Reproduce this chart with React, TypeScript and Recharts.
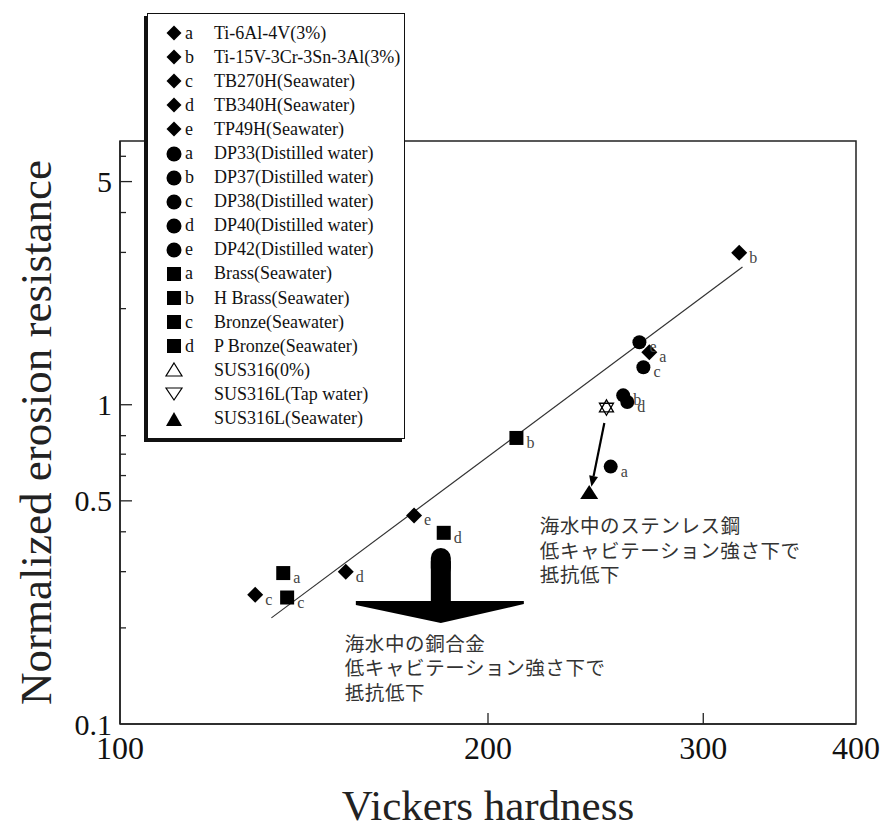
import React from "react";
import {
  ScatterChart,
  Scatter,
  XAxis,
  YAxis,
  ReferenceLine,
  ReferenceDot,
  ReferenceArea,
  Legend,
  Label,
} from "recharts";

// Ti alloys (diamonds)
const tiTags = ["a", "b", "c", "d", "e"];
const tiNames = [
  "Ti-6Al-4V(3%)",
  "Ti-15V-3Cr-3Sn-3Al(3%)",
  "TB270H(Seawater)",
  "TB340H(Seawater)",
  "TP49H(Seawater)",
];
const tiHardness = [271, 321, 129, 153, 174];
const tiResistance = [1.46, 2.99, 0.254, 0.3, 0.45];

// DP steels (circles)
const dpTags = ["a", "b", "c", "d", "e"];
const dpNames = [
  "DP33(Distilled water)",
  "DP37(Distilled water)",
  "DP38(Distilled water)",
  "DP40(Distilled water)",
  "DP42(Distilled water)",
];
const dpHardness = [252, 258, 268, 260, 266];
const dpResistance = [0.64, 1.07, 1.31, 1.02, 1.57];

// copper alloys (squares)
const cuTags = ["a", "b", "c", "d"];
const cuNames = [
  "Brass(Seawater)",
  "H Brass(Seawater)",
  "Bronze(Seawater)",
  "P Bronze(Seawater)",
];
const cuHardness = [136, 211, 137, 184];
const cuResistance = [0.297, 0.787, 0.249, 0.397];

// stainless steels (triangles)
const susNames = ["SUS316(0%)", "SUS316L(Tap water)", "SUS316L(Seawater)"];
const susHardness = [250, 250, 242];
const susResistance = [0.985, 0.975, 0.529];

// regression line end points
const fitHardness = [133, 323];
const fitResistance = [0.215, 2.7];

// annotations (data coordinates)
const copperNote = ["海水中の銅合金", "低キャビテーション強さ下で", "抵抗低下"];
const steelNote = ["海水中のステンレス鋼", "低キャビテーション強さ下で", "抵抗低下"];
const copperNoteAt = { hv: 152.7, res: 0.181 };
const steelNoteAt = { hv: 220.5, res: 0.423 };
const copperArrowTip = { hv: 183, res: 0.207 };
const steelArrowFrom = { hv: 249, res: 0.876 };
const steelArrowTo = { hv: 243, res: 0.553 };

const X_TICKS = [100, 200, 300, 400];
const Y_TICKS = [0.1, 0.2, 0.3, 0.4, 0.5, 0.6, 0.7, 0.8, 1, 2, 3, 4, 5, 6];
const Y_LABELED = [0.1, 0.5, 1, 5];

const toRows = (hv: number[], res: number[], tags: string[] = []) =>
  hv.map((h, i) => ({ hv: h, res: res[i], tag: tags[i] || "" }));

const tiData = toRows(tiHardness, tiResistance, tiTags);
const dpData = toRows(dpHardness, dpResistance, dpTags);
const cuData = toRows(cuHardness, cuResistance, cuTags);
const susData = toRows(susHardness, susResistance);

const SERIF = "'Liberation Serif', 'Times New Roman', serif";
const JP = "'Noto Sans CJK JP', sans-serif";

const tagText = (cx: number, cy: number, tag: string) =>
  tag ? (
    <text x={cx + 10} y={cy + 10} fontFamily={SERIF} fontSize={16} fill="#444">
      {tag}
    </text>
  ) : null;

const diamondPts = (cx: number, cy: number, r: number) =>
  `${cx},${cy - r} ${cx + r},${cy} ${cx},${cy + r} ${cx - r},${cy}`;

const DiamondMark = (p: any) => (
  <g>
    <polygon points={diamondPts(p.cx, p.cy, 8)} fill="#000" />
    {tagText(p.cx, p.cy, p.payload?.tag)}
  </g>
);

const CircleMark = (p: any) => (
  <g>
    <circle cx={p.cx} cy={p.cy} r={7} fill="#000" />
    {tagText(p.cx, p.cy, p.payload?.tag)}
  </g>
);

const SquareMark = (p: any) => (
  <g>
    <rect x={p.cx - 7} y={p.cy - 7} width={14} height={14} fill="#000" />
    {tagText(p.cx, p.cy, p.payload?.tag)}
  </g>
);

const OpenUp = (p: any) => (
  <polygon
    points={`${p.cx},${p.cy - 7} ${p.cx + 7},${p.cy + 5} ${p.cx - 7},${p.cy + 5}`}
    fill="none"
    stroke="#000"
    strokeWidth={1.3}
  />
);

const OpenDown = (p: any) => (
  <polygon
    points={`${p.cx},${p.cy + 7} ${p.cx + 7},${p.cy - 5} ${p.cx - 7},${p.cy - 5}`}
    fill="none"
    stroke="#000"
    strokeWidth={1.3}
  />
);

const FilledUp = (p: any) => (
  <polygon
    points={`${p.cx},${p.cy - 8} ${p.cx + 9},${p.cy + 6} ${p.cx - 9},${p.cy + 6}`}
    fill="#000"
  />
);

const BigArrow = ({ cx, cy }: any) => (
  <g fill="#000">
    <rect x={cx - 10} y={cy - 75} width={20} height={30} rx={10} />
    <rect x={cx - 10} y={cy - 62} width={20} height={44} />
    <polygon
      points={`${cx - 85},${cy - 22} ${cx + 83},${cy - 22} ${cx + 83},${cy - 19} ${cx},${cy} ${cx - 85},${cy - 18}`}
    />
  </g>
);

const ArrowLine = (p: any) => {
  const { x1, y1, x2, y2 } = p;
  if (x1 == null) return null;
  const ang = Math.atan2(y2 - y1, x2 - x1);
  const len = 11;
  const w = 4.5;
  const bx = x2 - len * Math.cos(ang);
  const by = y2 - len * Math.sin(ang);
  const nx = -Math.sin(ang) * w;
  const ny = Math.cos(ang) * w;
  return (
    <g>
      <line x1={x1} y1={y1} x2={bx} y2={by} stroke="#000" strokeWidth={2.2} />
      <polygon points={`${x2},${y2} ${bx + nx},${by + ny} ${bx - nx},${by - ny}`} fill="#000" />
    </g>
  );
};

const noteShape = (lines: string[]) => ({ cx, cy }: any) => (
  <text x={cx} y={cy} fontFamily={JP} fontSize={19.5} fill="#333" dominantBaseline="central">
    {lines.map((l, i) => (
      <tspan key={i} x={cx} y={cy + i * 24.5} letterSpacing={0.6}>
        {l}
      </tspan>
    ))}
  </text>
);

const XTick = ({ x, y, payload }: any) => {
  const v = payload.value;
  const inner = v !== 100 && v !== 400;
  return (
    <g>
      {inner && <line x1={x} x2={x} y1={y} y2={y - 11} stroke="#222" strokeWidth={1.3} />}
      <text x={x} y={y + 24} textAnchor="middle" dominantBaseline="central" fontFamily={SERIF} fontSize={32} fill="#111">
        {v}
      </text>
    </g>
  );
};

const YTick = ({ x, y, payload }: any) => {
  const v = payload.value;
  const major = Y_LABELED.includes(v);
  return (
    <g>
      {v !== 0.1 && (
        <line x1={x} x2={x + (major ? 12 : 6)} y1={y} y2={y} stroke="#222" strokeWidth={1.3} />
      )}
      {major && (
        <text x={x - 8} y={y} textAnchor="end" dominantBaseline="central" fontFamily={SERIF} fontSize={30} fill="#111">
          {v}
        </text>
      )}
    </g>
  );
};

const YTitle = ({ viewBox }: any) => {
  if (!viewBox) return null;
  const cx = viewBox.x + 36;
  const cy = viewBox.y + viewBox.height / 2;
  return (
    <text
      x={cx}
      y={cy}
      transform={`rotate(-90 ${cx} ${cy})`}
      textAnchor="middle"
      dominantBaseline="central"
      fontFamily={SERIF}
      fontSize={45}
      fill="#222"
    >
      Normalized erosion resistance
    </text>
  );
};

const XTitle = ({ viewBox }: any) => {
  if (!viewBox) return null;
  return (
    <text
      x={viewBox.x + viewBox.width / 2}
      y={viewBox.y + 81}
      textAnchor="middle"
      dominantBaseline="central"
      fontFamily={SERIF}
      fontSize={43}
      fill="#222"
    >
      Vickers hardness
    </text>
  );
};

type Row = { kind: string; tag: string; name: string };
const legendRows: Row[] = [
  ...tiNames.map((n, i) => ({ kind: "diamond", tag: tiTags[i], name: n })),
  ...dpNames.map((n, i) => ({ kind: "circle", tag: dpTags[i], name: n })),
  ...cuNames.map((n, i) => ({ kind: "square", tag: cuTags[i], name: n })),
  { kind: "openUp", tag: "", name: susNames[0] },
  { kind: "openDown", tag: "", name: susNames[1] },
  { kind: "filledUp", tag: "", name: susNames[2] },
];

const LegendIcon = ({ kind }: { kind: string }) => {
  const c = 10;
  let el: React.ReactNode = null;
  if (kind === "diamond") el = <polygon points={diamondPts(c, c, 7.5)} fill="#000" />;
  if (kind === "circle") el = <circle cx={c} cy={c} r={7.5} fill="#000" />;
  if (kind === "square") el = <rect x={c - 7} y={c - 7} width={14} height={14} fill="#000" />;
  if (kind === "openUp")
    el = <polygon points="10,3 18,16 2,16" fill="none" stroke="#000" strokeWidth={1.2} />;
  if (kind === "openDown")
    el = <polygon points="10,16 18,4 2,4" fill="none" stroke="#000" strokeWidth={1.2} />;
  if (kind === "filledUp") el = <polygon points="10,3 18,17 2,17" fill="#000" />;
  return (
    <svg width={20} height={20} style={{ display: "block" }}>
      {el}
    </svg>
  );
};

const LegendBox = () => (
  <div
    style={{
      border: "1.5px solid #111",
      boxShadow: "-3px 3px 0 #111",
      background: "#fff",
      padding: "7px 0",
      fontFamily: SERIF,
      fontSize: 18,
      color: "#111",
      width: 258,
      boxSizing: "border-box",
    }}
  >
    {legendRows.map((r, i) => (
      <div key={i} style={{ display: "flex", alignItems: "center", height: 24.1 }}>
        <div style={{ width: 16 }} />
        <LegendIcon kind={r.kind} />
        <span style={{ width: 29, paddingLeft: 1 }}>{r.tag}</span>
        <span style={{ whiteSpace: "nowrap" }}>{r.name}</span>
      </div>
    ))}
  </div>
);

export default function App() {
  return (
    <div style={{ width: 880, height: 828, background: "#fff" }}>
      <style>{"body{margin:0;background:#fff}"}</style>
      <ScatterChart width={880} height={828} margin={{ top: 141, right: 24, bottom: 0, left: 0 }}>
        <XAxis
          type="number"
          dataKey="hv"
          scale="log"
          domain={[100, 400]}
          allowDataOverflow
          ticks={X_TICKS}
          interval={0}
          height={104}
          tickSize={0}
          tickMargin={0}
          tickLine={false}
          axisLine={{ stroke: "#222", strokeWidth: 1.5 }}
          tick={<XTick />}
        >
          <Label content={<XTitle />} />
        </XAxis>
        <YAxis
          type="number"
          dataKey="res"
          scale="log"
          domain={[0.1, 6.7]}
          allowDataOverflow
          ticks={Y_TICKS}
          interval={0}
          width={120}
          tickSize={0}
          tickMargin={0}
          tickLine={false}
          axisLine={{ stroke: "#222", strokeWidth: 1.5 }}
          tick={<YTick />}
        >
          <Label content={<YTitle />} />
        </YAxis>
        <ReferenceArea x1={100} x2={400} y1={0.1} y2={6.7} fill="none" fillOpacity={0} stroke="#222" strokeWidth={1.5} />
        <ReferenceLine
          segment={[
            { x: fitHardness[0], y: fitResistance[0] },
            { x: fitHardness[1], y: fitResistance[1] },
          ]}
          stroke="#333"
          strokeWidth={1.2}
        />
        <ReferenceDot x={copperArrowTip.hv} y={copperArrowTip.res} r={1} shape={BigArrow} />
        <ReferenceLine
          segment={[
            { x: steelArrowFrom.hv, y: steelArrowFrom.res },
            { x: steelArrowTo.hv, y: steelArrowTo.res },
          ]}
          shape={ArrowLine}
        />
        <ReferenceDot x={copperNoteAt.hv} y={copperNoteAt.res} r={1} shape={noteShape(copperNote)} />
        <ReferenceDot x={steelNoteAt.hv} y={steelNoteAt.res} r={1} shape={noteShape(steelNote)} />
        <Scatter name="Ti" data={tiData} shape={DiamondMark} isAnimationActive={false} />
        <Scatter name="DP" data={dpData} shape={CircleMark} isAnimationActive={false} />
        <Scatter name="Cu" data={cuData} shape={SquareMark} isAnimationActive={false} />
        <Scatter name={susNames[0]} data={[susData[0]]} shape={OpenUp} isAnimationActive={false} />
        <Scatter name={susNames[1]} data={[susData[1]]} shape={OpenDown} isAnimationActive={false} />
        <Scatter name={susNames[2]} data={[susData[2]]} shape={FilledUp} isAnimationActive={false} />
        <Legend
          layout="vertical"
          align="center"
          verticalAlign="middle"
          content={<LegendBox />}
          wrapperStyle={{ left: 147, top: 13, width: 258, height: "auto" }}
        />
      </ScatterChart>
    </div>
  );
}
